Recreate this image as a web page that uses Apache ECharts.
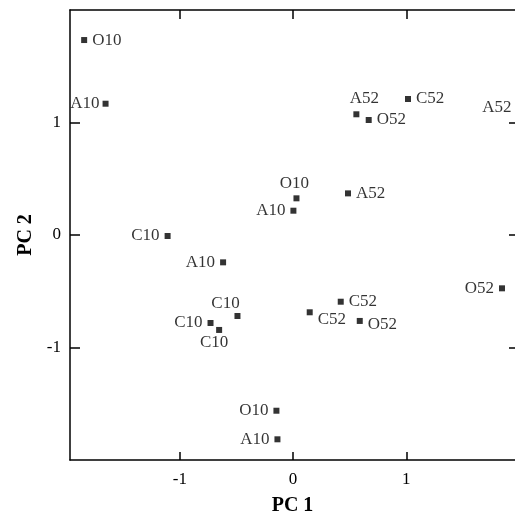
<!DOCTYPE html>
<html>
<head>
<meta charset="utf-8">
<script src="https://cdn.jsdelivr.net/npm/echarts@6/dist/echarts.min.js"></script>
<style>
html,body{margin:0;padding:0;background:#fff;}
#chart{width:515px;height:514px;}
</style>
</head>
<body>
<div id="chart"></div>
<script>
// ---- data ----
const pointNames = ['O10','A10','C10','A10','C10','C10','C10','O10','A10','O10','A10','A52','A52','O52','C52','A52','O52','C52','C52','O52'];
const pc1Values  = [-1.845,-1.656,-1.108,-0.618,-0.491,-0.729,-0.653,-0.147,-0.138,0.030,0.003,0.485,0.559,0.668,1.015,2.000,1.845,0.421,0.147,0.589];
const pc2Values  = [1.733,1.167,-0.009,-0.243,-0.720,-0.782,-0.844,-1.562,-1.816,0.326,0.216,0.370,1.073,1.022,1.209,1.130,-0.474,-0.593,-0.687,-0.764];
const tickValues = [-1, 0, 1];
const xAxisTitle = 'PC 1';
const yAxisTitle = 'PC 2';

// ---- label placement (style only) ----
const labelSide = ['right','left','left','left','top','left','bottom','left','left','top','left','right','top','right','right','left','left','right','right','right'];
const labelShift = [[0,0],[2,0],[0,0],[0,0],[-12,4],[0,0],[-5,-4],[0,0],[0,0],[-2,2],[0,0],[0,0],[8,1],[0,0],[0,0],[0,0],[0,0],[0,0],[0,7],[0,4]];

const FONT = '"Liberation Serif", "Times New Roman", serif';
const INK = '#000';

const data = pointNames.map((n, i) => ({
  value: [pc1Values[i], pc2Values[i]],
  name: n,
  label: { position: labelSide[i], offset: labelShift[i] }
}));

const chart = echarts.init(document.getElementById('chart'), null, {renderer: 'canvas'});
chart.setOption({
  animation: false,
  backgroundColor: '#fff',
  grid: { left: 70, top: 10, right: 0, bottom: 54, containLabel: false, outerBoundsMode: 'none' },
  xAxis: [{
    type: 'value', position: 'bottom', min: -1.97, max: 1.96,
    splitLine: { show: false },
    axisLine: { show: true, onZero: false, lineStyle: { color: INK, width: 1.5 } },
    axisTick: { show: true, inside: true, length: 8, customValues: tickValues, lineStyle: { color: INK, width: 1.5 } },
    axisLabel: { customValues: tickValues, color: INK, fontFamily: FONT, fontSize: 17, margin: 11,
      formatter: v => String(v) },
    name: xAxisTitle, nameLocation: 'middle', nameGap: 36,
    nameTextStyle: { fontFamily: FONT, fontSize: 20, fontWeight: 'bold', color: INK }
  }, {
    type: 'value', position: 'top', min: -1.97, max: 1.96,
    splitLine: { show: false },
    axisLine: { show: true, onZero: false, lineStyle: { color: INK, width: 1.5 } },
    axisTick: { show: true, inside: true, length: 9, customValues: tickValues, lineStyle: { color: INK, width: 1.5 } },
    axisLabel: { show: false }
  }],
  yAxis: [{
    type: 'value', position: 'left', min: -2, max: 2,
    splitLine: { show: false },
    axisLine: { show: true, onZero: false, lineStyle: { color: INK, width: 1.5 } },
    axisTick: { show: true, inside: true, length: 10, customValues: tickValues, lineStyle: { color: INK, width: 1.5 } },
    axisLabel: { customValues: tickValues, color: INK, fontFamily: FONT, fontSize: 17, margin: 9,
      formatter: v => String(v) },
    name: yAxisTitle, nameLocation: 'middle', nameGap: 34, nameRotate: 90,
    nameTextStyle: { fontFamily: FONT, fontSize: 20, fontWeight: 'bold', color: INK }
  }, {
    type: 'value', position: 'right', min: -2, max: 2,
    splitLine: { show: false },
    axisLine: { show: false, onZero: false },
    axisTick: { show: true, inside: true, length: 6, customValues: tickValues, lineStyle: { color: INK, width: 1.5 } },
    axisLabel: { show: false }
  }],
  series: [{
    type: 'scatter',
    xAxisIndex: 0, yAxisIndex: 0,
    clip: false,
    symbol: 'rect',
    symbolSize: 6,
    itemStyle: { color: INK },
    label: {
      show: true, formatter: p => p.name, distance: 5,
      color: INK, fontFamily: FONT, fontSize: 17
    },
    emphasis: { disabled: true },
    data: data
  }]
});
</script>
</body>
</html>
